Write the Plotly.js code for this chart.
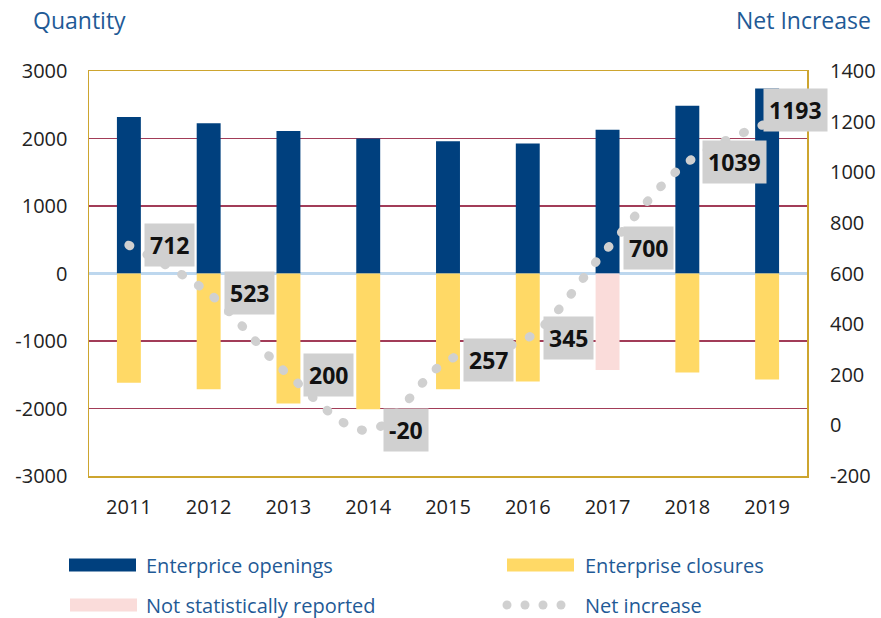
<!DOCTYPE html>
<html>
<head>
<meta charset="utf-8">
<script src="https://cdn.plot.ly/plotly-3.0.1.min.js"></script>
<style>
  html, body { margin: 0; padding: 0; background: #fff; }
  #chart { width: 881px; height: 618px; }
  .scatterlayer .js-line { stroke-linecap: round !important; }
</style>
</head>
<body>
<div id="chart"></div>
<script>
// ---- data ----
const years = ['2011', '2012', '2013', '2014', '2015', '2016', '2017', '2018', '2019'];
const openings = [2320, 2225, 2110, 2000, 1960, 1925, 2130, 2485, 2740];
const closures = [-1620, -1715, -1925, -2010, -1715, -1600, null, -1465, -1570];
const notReported = [null, null, null, null, null, null, -1430, null, null];
const netIncrease = [712, 523, 200, -20, 257, 345, 700, 1039, 1193];
const leftTicks = [-3000, -2000, -1000, 0, 1000, 2000, 3000];
const rightTicks = [-200, 0, 200, 400, 600, 800, 1000, 1200, 1400];

// ---- style ----
const FONT = 'Open Sans, Liberation Sans, sans-serif';
const BLUE_TXT = '#1F5A96';
const C_OPEN = '#00407E';
const C_CLOSE = '#FFD966';
const C_PINK = '#FADCDA';
const C_NET = '#D0D0D0';
const C_FRAME = '#CDA52F';
const C_GRID = '#A23C58';

// plot area in pixels
const L = 89, R = 807, T = 71, B = 476, W = 881, H = 618;
const px2x = p => (p - L) / (R - L);
const px2y = p => (B - p) / (B - T);

const traces = [
  { type: 'bar', x: years, y: openings, width: 0.3, marker: { color: C_OPEN }, name: 'Enterprice openings', hoverinfo: 'y' },
  { type: 'bar', x: years, y: closures, width: 0.3, marker: { color: C_CLOSE }, name: 'Enterprise closures', hoverinfo: 'y' },
  { type: 'bar', x: years, y: notReported, width: 0.3, marker: { color: C_PINK }, name: 'Not statistically reported', hoverinfo: 'y' },
  { type: 'scatter', mode: 'lines', x: years, y: netIncrease, yaxis: 'y2', name: 'Net increase',
    line: { shape: 'spline', smoothing: 1, color: C_NET, width: 9, dash: '1px,19px' }, hoverinfo: 'y' }
];

// data labels (x given as category index)
const annotations = netIncrease.map((v, i) => {
  const last = i === netIncrease.length - 1;
  return {
    x: i, y: v, xref: 'x', yref: 'y2',
    text: '<b>' + v + '</b>', showarrow: false,
    xanchor: 'left', yanchor: 'middle',
    xshift: last ? -4 : 15, yshift: last ? 13 : 0,
    bgcolor: '#D0D0D0', borderpad: 5,
    font: { family: FONT, size: 23, color: '#111' }
  };
});

// titles
annotations.push(
  { xref: 'paper', yref: 'paper', x: px2x(31), y: px2y(20), xanchor: 'left', yanchor: 'middle',
    text: 'Quantity', showarrow: false, font: { family: FONT, size: 23, color: BLUE_TXT } },
  { xref: 'paper', yref: 'paper', x: px2x(873), y: px2y(20), xanchor: 'right', yanchor: 'middle',
    text: 'Net Increase', showarrow: false, font: { family: FONT, size: 23, color: BLUE_TXT } }
);

// custom legend
const legendItems = [
  { label: 'Enterprice openings', color: C_OPEN, kind: 'rect', sx: 69, tx: 144, cy: 565 },
  { label: 'Enterprise closures', color: C_CLOSE, kind: 'rect', sx: 507, tx: 583, cy: 565 },
  { label: 'Not statistically reported', color: C_PINK, kind: 'rect', sx: 70, tx: 144, cy: 605 },
  { label: 'Net increase', color: C_NET, kind: 'dots', sx: 507, tx: 583, cy: 605 }
];
const shapes = [];
legendItems.forEach(it => {
  if (it.kind === 'rect') {
    shapes.push({ type: 'rect', xref: 'paper', yref: 'paper',
      x0: px2x(it.sx), x1: px2x(it.sx + 67), y0: px2y(it.cy - 6.5), y1: px2y(it.cy + 6.5),
      fillcolor: it.color, line: { width: 0 } });
  } else {
    for (let k = 0; k < 4; k++) {
      const cx = it.sx + k * 18;
      shapes.push({ type: 'circle', xref: 'paper', yref: 'paper',
        x0: px2x(cx - 4.5), x1: px2x(cx + 4.5), y0: px2y(it.cy - 4.5), y1: px2y(it.cy + 4.5),
        fillcolor: it.color, line: { width: 0 } });
    }
  }
  annotations.push({ xref: 'paper', yref: 'paper', x: px2x(it.tx), y: px2y(it.cy),
    xanchor: 'left', yanchor: 'middle', text: it.label, showarrow: false,
    font: { family: FONT, size: 20, color: BLUE_TXT } });
});

const layout = {
  width: W, height: H,
  margin: { l: L, r: W - R, t: T, b: H - B, pad: 0 },
  paper_bgcolor: '#fff', plot_bgcolor: '#fff',
  barmode: 'overlay',
  showlegend: false,
  font: { family: FONT, color: '#222' },
  xaxis: {
    type: 'category', range: [-0.5, years.length - 0.5], autorange: false,
    showgrid: false, zeroline: false,
    showline: true, mirror: true, linecolor: C_FRAME, linewidth: 1.5,
    ticks: '', ticklabelstandoff: 12,
    tickfont: { family: FONT, size: 20, color: '#222' }
  },
  yaxis: {
    range: [-3000, 3000], autorange: false, tickvals: leftTicks, ticktext: leftTicks.map(String),
    showgrid: true, gridcolor: C_GRID, gridwidth: 1.2,
    zeroline: true, zerolinecolor: '#BDD7EE', zerolinewidth: 2.5,
    showline: true, mirror: true, linecolor: C_FRAME, linewidth: 1.5,
    ticks: '', ticklabelstandoff: 16,
    tickfont: { family: FONT, size: 20, color: '#222' }
  },
  yaxis2: {
    overlaying: 'y', side: 'right', range: [-200, 1400], autorange: false,
    tickvals: rightTicks, ticktext: rightTicks.map(String),
    showgrid: false, zeroline: false, showline: false,
    ticks: '', ticklabelstandoff: 22,
    tickfont: { family: FONT, size: 20, color: '#222' }
  },
  shapes: shapes,
  annotations: annotations
};

Plotly.newPlot('chart', traces, layout, { staticPlot: true });
</script>
</body>
</html>
